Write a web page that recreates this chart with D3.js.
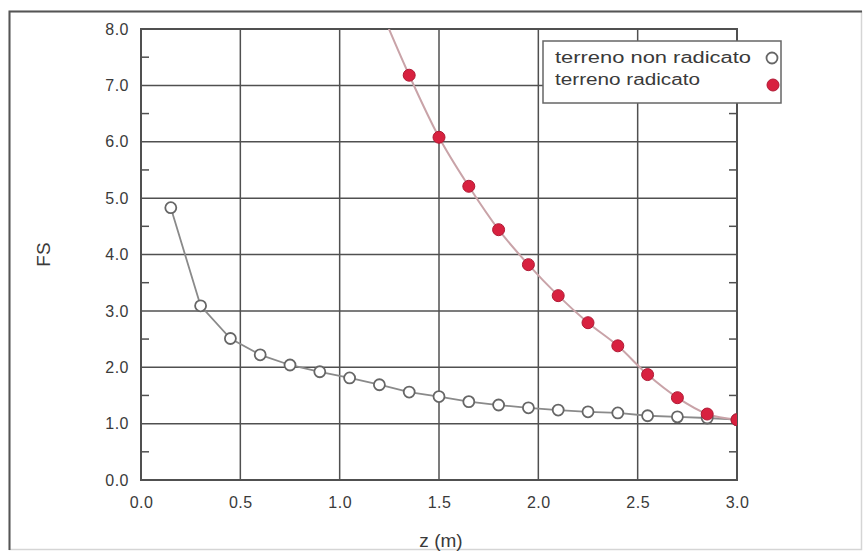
<!DOCTYPE html>
<html><head><meta charset="utf-8">
<script src="https://cdn.jsdelivr.net/npm/d3@7"></script>
<style>body{margin:0;background:#fff}svg{display:block}text{font-family:"Liberation Sans",Arial,sans-serif}</style>
</head><body><svg id="c" width="868" height="553"></svg>
<script>
const zValues = [0.15,0.3,0.45,0.6,0.75,0.9,1.05,1.2,1.35,1.5,1.65,1.8,1.95,2.1,2.25,2.4,2.55,2.7,2.85,3.0];
const fsNonRadicato = [4.83,3.09,2.51,2.22,2.04,1.92,1.81,1.69,1.56,1.48,1.39,1.33,1.28,1.24,1.21,1.19,1.14,1.12,1.10,1.07];
const zRadicato = [1.2,1.35,1.5,1.65,1.8,1.95,2.1,2.25,2.4,2.55,2.7,2.85,3.0];
const fsRadicato = [8.4,7.18,6.08,5.21,4.44,3.82,3.27,2.79,2.38,1.87,1.46,1.17,1.07];
const xTicks = [0,0.5,1.0,1.5,2.0,2.5,3.0];
const yTicks = [0,1,2,3,4,5,6,7,8];
const seriesNames = ["terreno non radicato","terreno radicato"];

const svg = d3.select("#c");
const L=141, R=737, T=29, B=480;
const x = d3.scaleLinear().domain([0,3]).range([L,R]);
const y = d3.scaleLinear().domain([0,8]).range([B,T]);
const grid="#505050", txt="#3a3a3a";

// outer frame
svg.append("rect").attr("x",9.5).attr("y",11.5).attr("width",852).attr("height",538)
  .attr("fill","none").attr("stroke","#d5d5d5").attr("stroke-width",1.5);
svg.append("path").attr("d","M9.5,550 V11.5 H862").attr("fill","none").attr("stroke","#555").attr("stroke-width",2);

// grid
svg.append("g").selectAll("line").data(xTicks).join("line")
  .attr("x1",d=>x(d)).attr("x2",d=>x(d)).attr("y1",T).attr("y2",B)
  .attr("stroke",grid).attr("stroke-width",1.5);
svg.append("g").selectAll("line").data(yTicks).join("line")
  .attr("x1",L).attr("x2",R).attr("y1",d=>y(d)).attr("y2",d=>y(d))
  .attr("stroke",grid).attr("stroke-width",1.5);
// minor ticks on y axes
const minorY = d3.range(0.5,8,1);
svg.append("g").selectAll("line").data(minorY).join("line")
  .attr("x1",L).attr("x2",L+8).attr("y1",d=>y(d)).attr("y2",d=>y(d)).attr("stroke",grid).attr("stroke-width",1.5);
svg.append("g").selectAll("line").data(minorY).join("line")
  .attr("x1",R-8).attr("x2",R).attr("y1",d=>y(d)).attr("y2",d=>y(d)).attr("stroke",grid).attr("stroke-width",1.5);
svg.append("rect").attr("x",L).attr("y",T).attr("width",R-L).attr("height",B-T)
  .attr("fill","none").attr("stroke",grid).attr("stroke-width",2);

// axis tick labels
const ax = svg.append("g").attr("transform",`translate(0,${B})`)
  .call(d3.axisBottom(x).tickValues(xTicks).tickFormat(d3.format(".1f")).tickSize(0).tickPadding(17));
ax.select(".domain").remove();
ax.selectAll("text").attr("font-size",16).attr("letter-spacing",0.5).attr("fill",txt);
const ay = svg.append("g").attr("transform",`translate(${L},0)`)
  .call(d3.axisLeft(y).tickValues(yTicks).tickFormat(d3.format(".1f")).tickSize(0).tickPadding(12));
ay.select(".domain").remove();
ay.selectAll("text").attr("font-size",16).attr("letter-spacing",0.5).attr("fill",txt);

svg.append("text").attr("x",441).attr("y",547).attr("text-anchor","middle")
  .attr("font-size",19).attr("fill",txt).text("z (m)");
svg.append("text").attr("transform",`translate(50,${(T+B)/2}) rotate(-90)`).attr("text-anchor","middle")
  .attr("font-size",19).attr("fill",txt).text("FS");

// clip
svg.append("clipPath").attr("id","cp").append("rect").attr("x",L).attr("y",T).attr("width",R-L).attr("height",B-T);
const plot = svg.append("g").attr("clip-path","url(#cp)");

const line = d3.line().curve(d3.curveMonotoneX);
const nonPts = zValues.map((z,i)=>[x(z),y(fsNonRadicato[i])]);
const radPts = zRadicato.map((z,i)=>[x(z),y(fsRadicato[i])]);
plot.append("path").attr("d",d3.line()(nonPts)).attr("fill","none").attr("stroke","#8a8a8a").attr("stroke-width",1.8);
plot.append("path").attr("d",line(radPts)).attr("fill","none").attr("stroke","#c9a3a8").attr("stroke-width",2);

plot.append("g").selectAll("circle").data(nonPts).join("circle")
  .attr("cx",d=>d[0]).attr("cy",d=>d[1]).attr("r",5.5).attr("fill","#fff").attr("stroke","#666").attr("stroke-width",1.8);
plot.append("g").selectAll("circle").data(radPts).join("circle")
  .attr("cx",d=>d[0]).attr("cy",d=>d[1]).attr("r",6).attr("fill","#d8213f").attr("stroke","#b01a35").attr("stroke-width",1);

// legend
const lg = svg.append("g");
lg.append("rect").attr("x",543).attr("y",41).attr("width",238).attr("height",62)
  .attr("fill","#fff").attr("stroke","#666").attr("stroke-width",1.5);
const legW = [196,145];
lg.selectAll("text").data(seriesNames).join("text")
  .attr("x",555).attr("y",(d,i)=>63+i*22).attr("font-size",16).attr("fill",txt)
  .attr("textLength",(d,i)=>legW[i]).attr("lengthAdjust","spacingAndGlyphs").text(d=>d);
lg.append("circle").attr("cx",772).attr("cy",58).attr("r",5.5).attr("fill","#fff").attr("stroke","#666").attr("stroke-width",1.8);
lg.append("circle").attr("cx",773).attr("cy",85).attr("r",6).attr("fill","#d8213f").attr("stroke","#b01a35");
</script></body></html>
